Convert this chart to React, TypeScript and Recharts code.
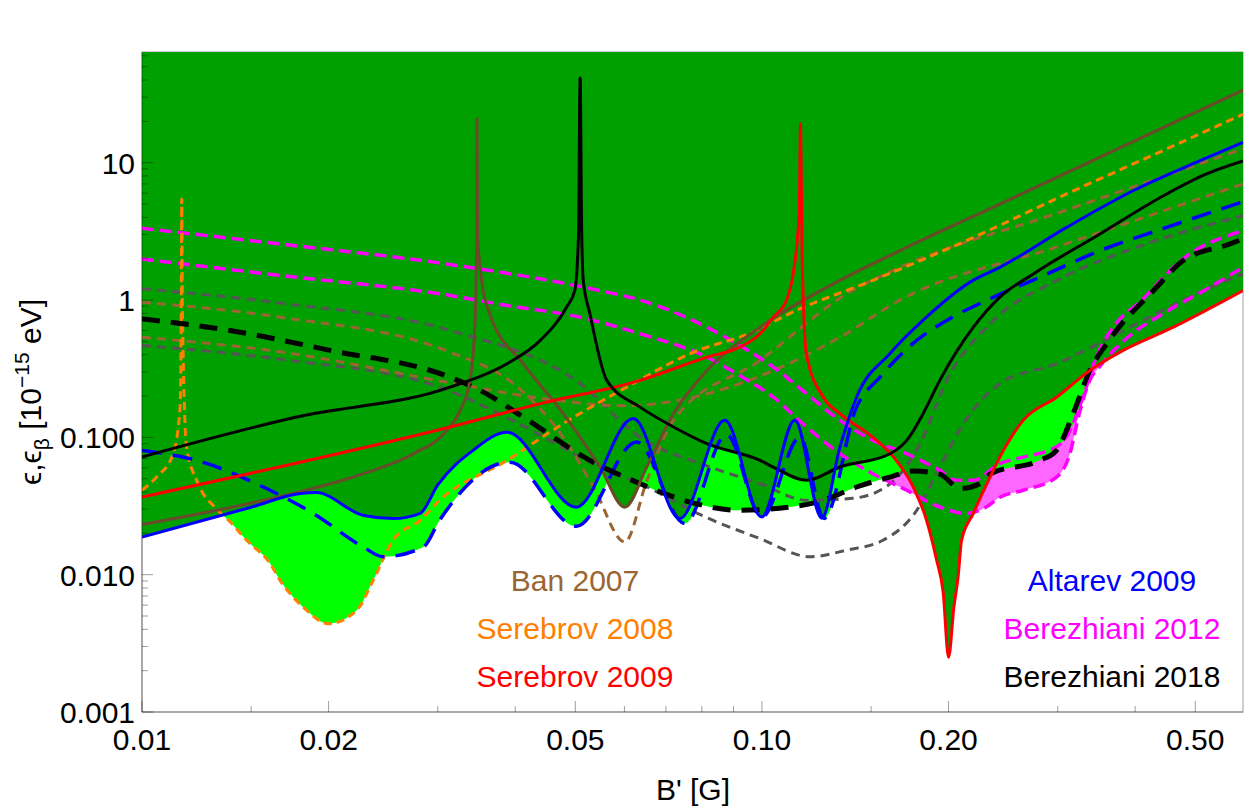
import { ComposedChart, Line, Area, XAxis, YAxis, Customized } from "recharts"

type Pt = { x: number; y: number }
const toPts = (rows: number[][]): Pt[] => rows.map(([x, y]) => ({ x, y }))

const X_DOMAIN = [0.01, 0.597]
const Y_DOMAIN = [0.001, 64]
const Y_TOP = 64

const FONT = "'Liberation Sans', Arial, Helvetica, sans-serif"
const FRAME = "rgba(0,0,0,0.38)"

// tick values
const xMajor = [0.01, 0.02, 0.05, 0.1, 0.2, 0.5]
const xMinor = [0.015, 0.03, 0.04, 0.06, 0.07, 0.08, 0.09, 0.15, 0.3, 0.4]
const xTickLabels: Record<string, string> = {
  "0.01": "0.01", "0.02": "0.02", "0.05": "0.05", "0.1": "0.10", "0.2": "0.20", "0.5": "0.50",
}
const yMajor = [0.001, 0.01, 0.1, 1, 10]
const yTickLabels: Record<string, string> = {
  "0.001": "0.001", "0.01": "0.010", "0.1": "0.100", "1": "1", "10": "10",
}
const yMinor = yMajor
  .flatMap((d) => [2, 3, 4, 5, 6, 7, 8, 9].map((k) => +(d * k).toPrecision(3)))
  .filter((v) => v < Y_TOP)
const xTicks = [...xMajor, ...xMinor].sort((a, b) => a - b)
const yTicks = [...yMajor, ...yMinor].sort((a, b) => a - b)

// Altarev 2009
const altarevSolid = toPts([
  [0.01, 0.0188], [0.015, 0.031], [0.018, 0.039], [0.0191, 0.0396], [0.0227, 0.0271],
  [0.0254, 0.0256], [0.0281, 0.028], [0.03, 0.045], [0.0342, 0.0804], [0.0388, 0.109],
  [0.0502, 0.031], [0.062, 0.137], [0.0737, 0.0256], [0.0871, 0.133], [0.0999, 0.0263],
  [0.113, 0.133], [0.1249, 0.0258], [0.1336, 0.085], [0.1421, 0.196], [0.1609, 0.408],
  [0.1818, 0.71], [0.2189, 1.39], [0.242, 1.73], [0.31, 3.38], [0.3967, 6.25],
  [0.5088, 10.34], [0.597, 14.05],
])
const altarevDashed = toPts([
  [0.01, 0.0804], [0.01225, 0.068], [0.01569, 0.0435], [0.0189, 0.0279], [0.02275, 0.0159],
  [0.0245, 0.0135], [0.02843, 0.0159], [0.0302, 0.0249], [0.0392, 0.066], [0.0502, 0.0225],
  [0.0628, 0.0925], [0.0751, 0.0236], [0.0877, 0.105], [0.0999, 0.0262], [0.1152, 0.1],
  [0.126, 0.0257], [0.1421, 0.166], [0.155, 0.275], [0.1777, 0.508], [0.1986, 0.71],
  [0.2332, 1.02], [0.2808, 1.466], [0.351, 2.29], [0.4495, 3.38], [0.597, 5.2],
])

// Serebrov 2008
const serebrov08 = toPts([
  [0.01, 0.0412], [0.01056, 0.0514], [0.01123, 0.076], [0.01152, 0.166], [0.01157, 0.8],
  [0.01159, 5.44], [0.01162, 0.8], [0.0118, 0.085], [0.01225, 0.0487], [0.0132, 0.03],
  [0.0139, 0.024], [0.01475, 0.0178], [0.0161, 0.012], [0.0167, 0.0091], [0.0182, 0.0058],
  [0.02, 0.0044], [0.0222, 0.0055], [0.0236, 0.0091], [0.0254, 0.0178], [0.0281, 0.0249],
  [0.0302, 0.0348], [0.0388, 0.068], [0.0478, 0.126], [0.0605, 0.232], [0.0765, 0.406],
  [0.098, 0.6], [0.111, 0.8], [0.151, 1.39], [0.2138, 2.71], [0.31, 5.92], [0.4495, 12.6],
  [0.597, 22.5],
])

// Serebrov 2009
const serebrov09 = toPts([
  [0.01, 0.0368], [0.0314, 0.119], [0.0439, 0.176], [0.0636, 0.26], [0.0815, 0.384],
  [0.0921, 0.454], [0.0993, 0.568], [0.1043, 0.75], [0.1096, 1.0], [0.1123, 1.55],
  [0.114, 2.71], [0.1149, 4.73], [0.1154, 19.1], [0.1157, 8.3], [0.116, 2.71],
  [0.1166, 1.0], [0.118, 0.4], [0.1256, 0.196], [0.1336, 0.149], [0.151, 0.1],
  [0.163, 0.072], [0.1754, 0.0435], [0.1843, 0.0249], [0.1913, 0.0128], [0.196, 0.0075],
  [0.2, 0.0025], [0.204, 0.0058], [0.2073, 0.0098], [0.2099, 0.0178], [0.2193, 0.028],
  [0.2301, 0.045], [0.242, 0.072], [0.2639, 0.133], [0.2987, 0.196], [0.338, 0.307],
  [0.3826, 0.43], [0.461, 0.634], [0.597, 1.17],
])

// Ban 2007
const banSolid = toPts([
  [0.01, 0.0232], [0.01569, 0.0348], [0.02275, 0.0544], [0.0274, 0.076], [0.031, 0.112],
  [0.0326, 0.157], [0.0338, 0.26], [0.0344, 0.6], [0.03465, 2.5], [0.0347, 20.8],
  [0.03478, 3.0], [0.0353, 1.39], [0.0364, 0.79], [0.0412, 0.344], [0.0478, 0.149],
  [0.0548, 0.0608], [0.0601, 0.031], [0.0652, 0.0608], [0.072, 0.149], [0.0815, 0.307],
  [0.0993, 0.634], [0.1336, 1.39], [0.167, 2.29], [0.242, 5.0], [0.351, 11], [0.597, 33.8],
])
const banDashedA = toPts([
  [0.01, 0.964], [0.0167, 0.75], [0.0314, 0.417], [0.04, 0.24], [0.0478, 0.1],
  [0.0535, 0.0435], [0.0601, 0.0173], [0.0652, 0.048], [0.072, 0.133], [0.0993, 0.363],
  [0.137, 1.11], [0.167, 1.73], [0.3, 4.3], [0.597, 12.6],
])
const banDashedB = toPts([
  [0.01, 0.536], [0.0167, 0.42], [0.0314, 0.25], [0.045, 0.19], [0.06, 0.17],
  [0.075, 0.19], [0.0921, 0.246], [0.1043, 0.307], [0.1336, 0.536], [0.167, 1.0],
  [0.3, 2.45], [0.597, 7.0],
])

// Berezhiani 2012
const ber12A = toPts([
  [0.01, 3.33], [0.0167, 2.56], [0.031, 1.83], [0.0548, 1.17], [0.0636, 1.0],
  [0.0815, 0.634], [0.0921, 0.467], [0.1043, 0.325], [0.118, 0.208], [0.1336, 0.133],
  [0.151, 0.095], [0.1712, 0.076], [0.1936, 0.0575], [0.2063, 0.0487], [0.2193, 0.0487],
  [0.242, 0.0644], [0.2639, 0.0718], [0.2987, 0.0853], [0.3139, 0.112], [0.3294, 0.196],
  [0.3463, 0.384], [0.3721, 0.67], [0.4063, 0.96], [0.4782, 2.0], [0.597, 3.2],
])
const ber12B = toPts([
  [0.01, 1.99], [0.0167, 1.51], [0.0302, 1.11], [0.0388, 0.912], [0.0509, 0.75],
  [0.0636, 0.568], [0.0815, 0.384], [0.0921, 0.282], [0.1043, 0.196], [0.118, 0.119],
  [0.1336, 0.076], [0.151, 0.0544], [0.1712, 0.0412], [0.1936, 0.0311], [0.213, 0.0279],
  [0.2301, 0.0311], [0.242, 0.0366], [0.2639, 0.0412], [0.2987, 0.0514], [0.3139, 0.076],
  [0.325, 0.149], [0.338, 0.26], [0.351, 0.33], [0.392, 0.55], [0.4444, 0.8],
  [0.5214, 1.2], [0.597, 1.73],
])

// Berezhiani 2018
const ber18Solid = toPts([
  [0.01, 0.072], [0.01776, 0.1405], [0.0314, 0.232], [0.0388, 0.344], [0.0439, 0.508],
  [0.0484, 0.887], [0.0499, 1.17], [0.0506, 3.0], [0.0509, 41.3], [0.0512, 3.0],
  [0.0515, 1.39], [0.0528, 0.79], [0.0562, 0.26], [0.0636, 0.166], [0.072, 0.119],
  [0.0815, 0.0899], [0.0993, 0.068], [0.1043, 0.0608], [0.118, 0.0487], [0.1336, 0.0608],
  [0.1609, 0.076], [0.1712, 0.095], [0.182, 0.149], [0.1936, 0.26], [0.2193, 0.634],
  [0.242, 1.05], [0.274, 1.55], [0.351, 3.03], [0.4495, 5.92], [0.5214, 8.28], [0.597, 10.3],
])
const ber18Dashed = toPts([
  [0.01, 0.73], [0.01387, 0.6], [0.0201, 0.43], [0.031, 0.28], [0.0351, 0.22],
  [0.0412, 0.1405], [0.0528, 0.068], [0.0636, 0.046], [0.0765, 0.0338], [0.0921, 0.0294],
  [0.111, 0.0311], [0.1256, 0.0348], [0.1421, 0.0435], [0.1609, 0.0514], [0.1754, 0.0569],
  [0.1936, 0.054], [0.2087, 0.0424], [0.2245, 0.046], [0.2332, 0.054], [0.2808, 0.068],
  [0.2987, 0.0805], [0.3177, 0.149], [0.338, 0.307], [0.3597, 0.48], [0.4332, 1.24],
  [0.4782, 1.94], [0.5686, 2.56], [0.597, 2.8],
])

// grey dashed curves
const greyA = toPts([
  [0.01, 1.21], [0.0167, 0.95], [0.0314, 0.6], [0.0509, 0.246], [0.0636, 0.1],
  [0.0815, 0.062], [0.0993, 0.046], [0.118, 0.0348], [0.14, 0.036], [0.16, 0.045],
  [0.18, 0.09], [0.1986, 0.26], [0.2332, 0.67], [0.3, 1.4], [0.4, 2.4], [0.597, 4.12],
])
const greyB = toPts([
  [0.01, 0.467], [0.0167, 0.37], [0.0302, 0.232], [0.04, 0.13], [0.0548, 0.0608],
  [0.0636, 0.046], [0.0815, 0.026], [0.0993, 0.0183], [0.1196, 0.0135], [0.137, 0.0151],
  [0.1567, 0.0178], [0.1777, 0.0294], [0.1936, 0.0608], [0.213, 0.133], [0.242, 0.246],
  [0.2987, 0.344], [0.3826, 0.6], [0.5, 1.1], [0.597, 1.55],
])

const XTickBottom = (p: any) => {
  const v = p.payload.value
  const major = xMajor.includes(v)
  return (
    <g>
      <line x1={p.x} x2={p.x} y1={p.y} y2={p.y - (major ? 11 : 6)} stroke={FRAME} />
      {major && (
        <text x={p.x} y={p.y + 38} textAnchor="middle" fontFamily={FONT} fontSize={30} fill="#000">
          {xTickLabels[String(v)]}
        </text>
      )}
    </g>
  )
}
const XTickTop = (p: any) => {
  const major = xMajor.includes(p.payload.value)
  return <line x1={p.x} x2={p.x} y1={p.y} y2={p.y + (major ? 11 : 6)} stroke={FRAME} />
}
const YTickLeft = (p: any) => {
  const v = p.payload.value
  const major = yMajor.includes(v)
  return (
    <g>
      <line x1={p.x} x2={p.x + (major ? 11 : 6)} y1={p.y} y2={p.y} stroke={FRAME} />
      {major && (
        <text x={p.x - 7} y={p.y + 11} textAnchor="end" fontFamily={FONT} fontSize={30} fill="#000">
          {yTickLabels[String(v)]}
        </text>
      )}
    </g>
  )
}
const YTickRight = (p: any) => {
  const major = yMajor.includes(p.payload.value)
  return <line x1={p.x} x2={p.x - (major ? 11 : 6)} y1={p.y} y2={p.y} stroke={FRAME} />
}

const Annotations = () => (
  <g fontFamily={FONT} fontSize={30}>
    <rect x={142} y={52} width={1101} height={660} fill="none" stroke={FRAME} />
    <text x={575} y={591} textAnchor="middle" fill="#996633">Ban 2007</text>
    <text x={575} y={639} textAnchor="middle" fill="#ff8000">Serebrov 2008</text>
    <text x={575} y={687} textAnchor="middle" fill="#ff0000">Serebrov 2009</text>
    <text x={1112} y={591} textAnchor="middle" fill="#0000ff">Altarev 2009</text>
    <text x={1112} y={639} textAnchor="middle" fill="#ff00ff">Berezhiani 2012</text>
    <text x={1112} y={687} textAnchor="middle" fill="#000">Berezhiani 2018</text>
    <text x={693} y={800} textAnchor="middle" fill="#000">B' [G]</text>
    <text transform="translate(41,392) rotate(-90)" textAnchor="middle" fill="#000">
      ϵ,ϵ<tspan fontSize={21} dy={8}>β</tspan>
      <tspan dy={-8}> [10</tspan>
      <tspan fontSize={21} dy={-12}>−15</tspan>
      <tspan dy={12}> eV]</tspan>
    </text>
  </g>
)

const fillArea = (key: string, data: Pt[], color: string) => (
  <Area
    key={key}
    data={data}
    dataKey="y"
    type="monotone"
    baseValue={Y_TOP}
    stroke="none"
    fill={color}
    fillOpacity={1}
    isAnimationActive={false}
  />
)

const curve = (key: string, data: Pt[], color: string, width: number, dash?: string) => (
  <Line
    key={key}
    data={data}
    dataKey="y"
    type="monotone"
    stroke={color}
    strokeWidth={width}
    strokeDasharray={dash}
    dot={false}
    activeDot={false}
    isAnimationActive={false}
  />
)

export default function App() {
  return (
    <div style={{ position: "absolute", left: 0, top: 0, width: 1250, height: 811, background: "#fff" }}>
      <ComposedChart width={1250} height={811} margin={{ top: 52, right: 7, bottom: 49, left: 62 }}>
        <XAxis
          dataKey="x"
          type="number"
          scale="log"
          domain={X_DOMAIN}
          allowDataOverflow
          ticks={xTicks}
          interval={0}
          tick={XTickBottom}
          tickSize={0}
          tickMargin={0}
          tickLine={false}
          height={50}
          axisLine={{ stroke: FRAME }}
        />
        <XAxis
          xAxisId="top"
          orientation="top"
          dataKey="x"
          type="number"
          scale="log"
          domain={X_DOMAIN}
          allowDataOverflow
          ticks={xTicks}
          interval={0}
          tick={XTickTop}
          tickSize={0}
          tickMargin={0}
          tickLine={false}
          height={0}
          axisLine={{ stroke: FRAME }}
        />
        <YAxis
          dataKey="y"
          type="number"
          scale="log"
          domain={Y_DOMAIN}
          allowDataOverflow
          ticks={yTicks}
          interval={0}
          tick={YTickLeft}
          tickSize={0}
          tickMargin={0}
          tickLine={false}
          width={80}
          axisLine={{ stroke: FRAME }}
        />
        <YAxis
          yAxisId="right"
          orientation="right"
          dataKey="y"
          type="number"
          scale="log"
          domain={Y_DOMAIN}
          allowDataOverflow
          ticks={yTicks}
          interval={0}
          tick={YTickRight}
          tickSize={0}
          tickMargin={0}
          tickLine={false}
          width={0}
          axisLine={{ stroke: FRAME }}
        />

        {fillArea("pinkB", ber12B, "#ff66ff")}
        {fillArea("lgOrange", serebrov08, "#00ff00")}
        {fillArea("lgBlue", altarevDashed, "#00ff00")}
        {fillArea("lgBlack", ber18Dashed, "#00ff00")}
        {fillArea("lgMag", ber12A, "#00ff00")}
        {fillArea("dgBlue", altarevSolid, "#00a000")}
        {fillArea("dgBrown", banSolid, "#00a000")}
        {fillArea("dgBlack", ber18Solid, "#00a000")}
        {fillArea("dgRed", serebrov09, "#00a000")}

        {curve("greyA", greyA, "#555555", 3, "9 6")}
        {curve("greyB", greyB, "#555555", 3, "9 6")}
        {curve("banA", banDashedA, "#996633", 3, "9 6")}
        {curve("banB", banDashedB, "#996633", 3, "9 6")}
        {curve("ber12A", ber12A, "#ff00ff", 3.5, "12 6")}
        {curve("ber12B", ber12B, "#ff00ff", 3.5, "12 6")}
        {curve("ser08", serebrov08, "#ff8000", 3, "8 5")}
        {curve("altD", altarevDashed, "#0000ff", 3.5, "20 11")}
        {curve("ber18D", ber18Dashed, "#000000", 5, "18 11")}
        {curve("banS", banSolid, "#6b4a2b", 3)}
        {curve("ser09", serebrov09, "#ff0000", 3)}
        {curve("ber18S", ber18Solid, "#000000", 3)}
        {curve("altS", altarevSolid, "#0000ff", 3)}

        <Customized component={Annotations} />
      </ComposedChart>
    </div>
  )
}
